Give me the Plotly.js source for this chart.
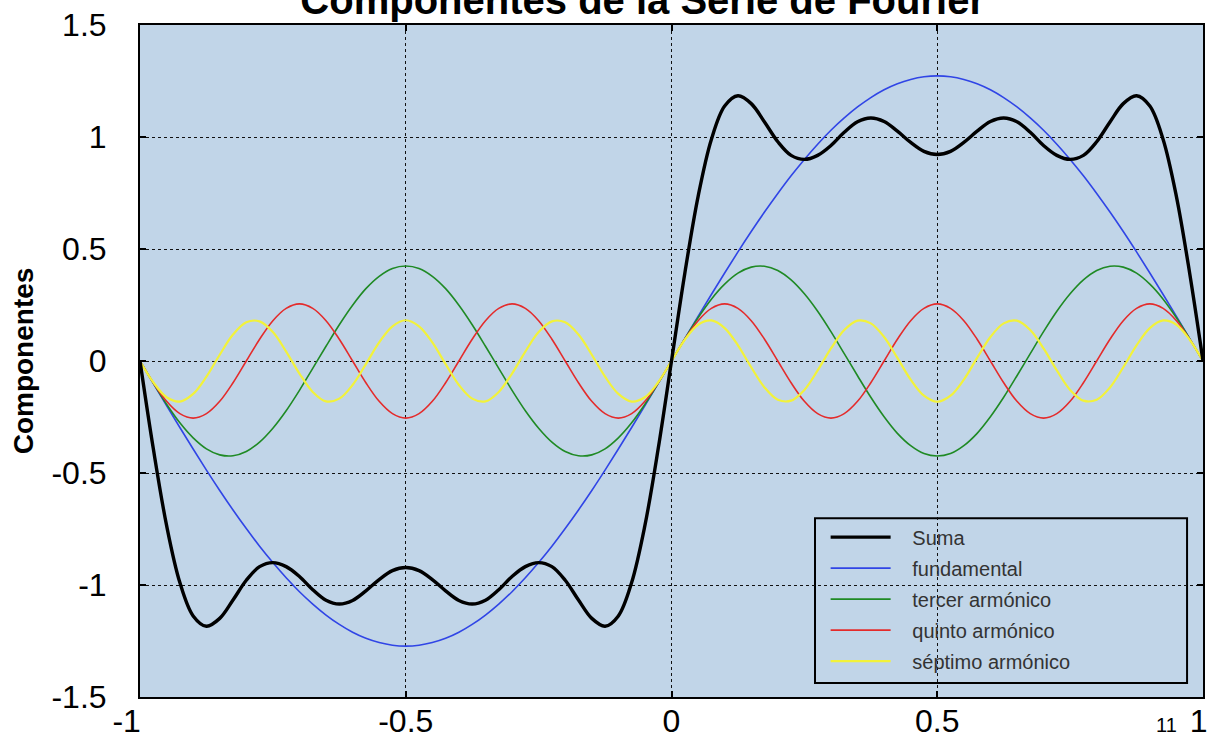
<!DOCTYPE html>
<html>
<head>
<meta charset="utf-8">
<script src="https://cdn.plot.ly/plotly-3.0.1.min.js"></script>
<style>
  html, body { margin: 0; padding: 0; background: #ffffff; }
  #chart { width: 1208px; height: 738px; }
</style>
</head>
<body>
<div id="chart"></div>
<script>
// Sample positions along x (step 0.025 from -1 to 1)
const xs = [
  -1.000, -0.975, -0.950, -0.925, -0.900, -0.875, -0.850, -0.825, -0.800, -0.775,
  -0.750, -0.725, -0.700, -0.675, -0.650, -0.625, -0.600, -0.575, -0.550, -0.525,
  -0.500, -0.475, -0.450, -0.425, -0.400, -0.375, -0.350, -0.325, -0.300, -0.275,
  -0.250, -0.225, -0.200, -0.175, -0.150, -0.125, -0.100, -0.075, -0.050, -0.025,
   0.000,  0.025,  0.050,  0.075,  0.100,  0.125,  0.150,  0.175,  0.200,  0.225,
   0.250,  0.275,  0.300,  0.325,  0.350,  0.375,  0.400,  0.425,  0.450,  0.475,
   0.500,  0.525,  0.550,  0.575,  0.600,  0.625,  0.650,  0.675,  0.700,  0.725,
   0.750,  0.775,  0.800,  0.825,  0.850,  0.875,  0.900,  0.925,  0.950,  0.975,
   1.000
];

const suma = [
  0, -0.391, -0.734, -0.989, -1.138, -1.184, -1.149, -1.067, -0.979, -0.918,
  -0.900, -0.918, -0.962, -1.021, -1.068, -1.085, -1.069, -1.026, -0.976, -0.936,
  -0.922, -0.936, -0.976, -1.026, -1.069, -1.085, -1.068, -1.021, -0.962, -0.918,
  -0.900, -0.918, -0.979, -1.067, -1.149, -1.184, -1.138, -0.989, -0.734, -0.391,
  0, 0.391, 0.734, 0.989, 1.138, 1.184, 1.149, 1.067, 0.979, 0.918,
  0.900, 0.918, 0.962, 1.021, 1.068, 1.085, 1.069, 1.026, 0.976, 0.936,
  0.922, 0.936, 0.976, 1.026, 1.069, 1.085, 1.068, 1.021, 0.962, 0.918,
  0.900, 0.918, 0.979, 1.067, 1.149, 1.184, 1.138, 0.989, 0.734, 0.391,
  0
];

const fundamental = [
  0, -0.100, -0.199, -0.297, -0.393, -0.487, -0.578, -0.665, -0.748, -0.827,
  -0.900, -0.968, -1.030, -1.085, -1.134, -1.176, -1.211, -1.238, -1.257, -1.269,
  -1.273, -1.269, -1.257, -1.238, -1.211, -1.176, -1.134, -1.085, -1.030, -0.968,
  -0.900, -0.827, -0.748, -0.665, -0.578, -0.487, -0.393, -0.297, -0.199, -0.100,
  0, 0.100, 0.199, 0.297, 0.393, 0.487, 0.578, 0.665, 0.748, 0.827,
  0.900, 0.968, 1.030, 1.085, 1.134, 1.176, 1.211, 1.238, 1.257, 1.269,
  1.273, 1.269, 1.257, 1.238, 1.211, 1.176, 1.134, 1.085, 1.030, 0.968,
  0.900, 0.827, 0.748, 0.665, 0.578, 0.487, 0.393, 0.297, 0.199, 0.100,
  0
];

const tercer = [
  0, -0.099, -0.193, -0.276, -0.343, -0.392, -0.419, -0.423, -0.404, -0.362,
  -0.300, -0.222, -0.131, -0.033, 0.066, 0.162, 0.249, 0.323, 0.378, 0.413,
  0.424, 0.413, 0.378, 0.323, 0.249, 0.162, 0.066, -0.033, -0.131, -0.222,
  -0.300, -0.362, -0.404, -0.423, -0.419, -0.392, -0.343, -0.276, -0.193, -0.099,
  0, 0.099, 0.193, 0.276, 0.343, 0.392, 0.419, 0.423, 0.404, 0.362,
  0.300, 0.222, 0.131, 0.033, -0.066, -0.162, -0.249, -0.323, -0.378, -0.413,
  -0.424, -0.413, -0.378, -0.323, -0.249, -0.162, -0.066, 0.033, 0.131, 0.222,
  0.300, 0.362, 0.404, 0.423, 0.419, 0.392, 0.343, 0.276, 0.193, 0.099,
  0
];

const quinto = [
  0, -0.097, -0.180, -0.235, -0.255, -0.235, -0.180, -0.097, 0, 0.097,
  0.180, 0.235, 0.255, 0.235, 0.180, 0.097, 0, -0.097, -0.180, -0.235,
  -0.255, -0.235, -0.180, -0.097, 0, 0.097, 0.180, 0.235, 0.255, 0.235,
  0.180, 0.097, 0, -0.097, -0.180, -0.235, -0.255, -0.235, -0.180, -0.097,
  0, 0.097, 0.180, 0.235, 0.255, 0.235, 0.180, 0.097, 0, -0.097,
  -0.180, -0.235, -0.255, -0.235, -0.180, -0.097, 0, 0.097, 0.180, 0.235,
  0.255, 0.235, 0.180, 0.097, 0, -0.097, -0.180, -0.235, -0.255, -0.235,
  -0.180, -0.097, 0, 0.097, 0.180, 0.235, 0.255, 0.235, 0.180, 0.097,
  0
];

const septimo = [
  0, -0.095, -0.162, -0.181, -0.147, -0.070, 0.028, 0.118, 0.173, 0.177,
  0.129, 0.042, -0.056, -0.138, -0.180, -0.168, -0.107, -0.014, 0.083, 0.155,
  0.182, 0.155, 0.083, -0.014, -0.107, -0.168, -0.180, -0.138, -0.056, 0.042,
  0.129, 0.177, 0.173, 0.118, 0.028, -0.070, -0.147, -0.181, -0.162, -0.095,
  0, 0.095, 0.162, 0.181, 0.147, 0.070, -0.028, -0.118, -0.173, -0.177,
  -0.129, -0.042, 0.056, 0.138, 0.180, 0.168, 0.107, 0.014, -0.083, -0.155,
  -0.182, -0.155, -0.083, 0.014, 0.107, 0.168, 0.180, 0.138, 0.056, -0.042,
  -0.129, -0.177, -0.173, -0.118, -0.028, 0.070, 0.147, 0.181, 0.162, 0.095,
  0
];

const seriesNames = ['Suma', 'fundamental', 'tercer armónico', 'quinto armónico', 'séptimo armónico'];

const xTickVals = [-1, -0.5, 0, 0.5, 1];
const xTickText = ['-1\u00a0\u00a0\u00a0', '-0.5', '0', '0.5', '1\u00a0'];
const yTickVals = [-1.5, -1, -0.5, 0, 0.5, 1, 1.5];
const yTickText = ['-1.5', '-1', '-0.5', '0', '0.5', '1', '1.5'];

const FONT = 'Liberation Sans, Arial, Helvetica, sans-serif';
const PLOT_BG = '#c1d5e8';
const LEGEND_PAD = '\u00a0\u00a0\u00a0';

function curve(y, name, color, width, rank) {
  return {
    type: 'scatter', mode: 'lines', x: xs, y: y, name: LEGEND_PAD + name,
    legendgroup: 'g' + rank, legendrank: rank,
    line: { color: color, width: width, shape: 'spline', smoothing: 1 },
    hoverinfo: 'skip'
  };
}

// Harmonics first, partial sum drawn on top
const traces = [
  curve(fundamental, seriesNames[1], '#3045e6', 1.6, 2),
  curve(tercer, seriesNames[2], '#1f8a24', 1.6, 3),
  curve(quinto, seriesNames[3], '#e42b2b', 1.6, 4),
  curve(septimo, seriesNames[4], '#f2f23a', 2.2, 5),
  curve(suma, seriesNames[0], '#000000', 3.4, 1)
];

const axisCommon = {
  showline: true, linecolor: '#000000', linewidth: 2, mirror: 'ticks',
  ticks: 'inside', ticklen: 6, tickcolor: '#000000', tickwidth: 2,
  showgrid: true, gridcolor: '#111111', gridwidth: 1, griddash: 'dot',
  zeroline: false, tickmode: 'array',
  tickfont: { family: FONT, size: 32, color: '#000000' }
};

const layout = {
  width: 1208, height: 738,
  margin: { l: 140, r: 5, t: 25, b: 41 },
  paper_bgcolor: '#ffffff',
  plot_bgcolor: PLOT_BG,
  showlegend: true,
  title: {
    text: '<b>Componentes de la Serie de Fourier</b>',
    font: { family: FONT, size: 40, color: '#000000' },
    xref: 'container', yref: 'container',
    x: 0.532, xanchor: 'center', y: 1.0, yanchor: 'middle'
  },
  xaxis: Object.assign({}, axisCommon, {
    range: [-1, 1], tickvals: xTickVals, ticktext: xTickText,
    ticklabelstandoff: -5, ticklabeloverflow: 'allow'
  }),
  yaxis: Object.assign({}, axisCommon, {
    range: [-1.5, 1.5], tickvals: yTickVals, ticktext: yTickText,
    ticklabelstandoff: 25,
    title: { text: '<b>Componentes</b>', font: { family: FONT, size: 28, color: '#000000' }, standoff: 10 }
  }),
  legend: {
    x: 0.645, xanchor: 'left', y: 0.267, yanchor: 'top',
    bgcolor: 'rgba(0,0,0,0)', borderwidth: 0,
    font: { family: FONT, size: 20, color: '#333333' },
    itemwidth: 60, traceorder: 'grouped', tracegroupgap: 2
  },
  shapes: [{
    type: 'rect', xref: 'paper', yref: 'paper',
    x0: 0.635, x1: 0.985, y0: 0.021, y1: 0.266,
    line: { color: '#000000', width: 2 }, fillcolor: PLOT_BG, layer: 'below'
  }],
  annotations: [{
    text: '11', xref: 'paper', yref: 'paper', x: 0.966, y: -0.042,
    xanchor: 'center', yanchor: 'middle', showarrow: false,
    font: { family: FONT, size: 20, color: '#000000' }
  }]
};

Plotly.newPlot('chart', traces, layout, { displayModeBar: false, staticPlot: true });
</script>
</body>
</html>
